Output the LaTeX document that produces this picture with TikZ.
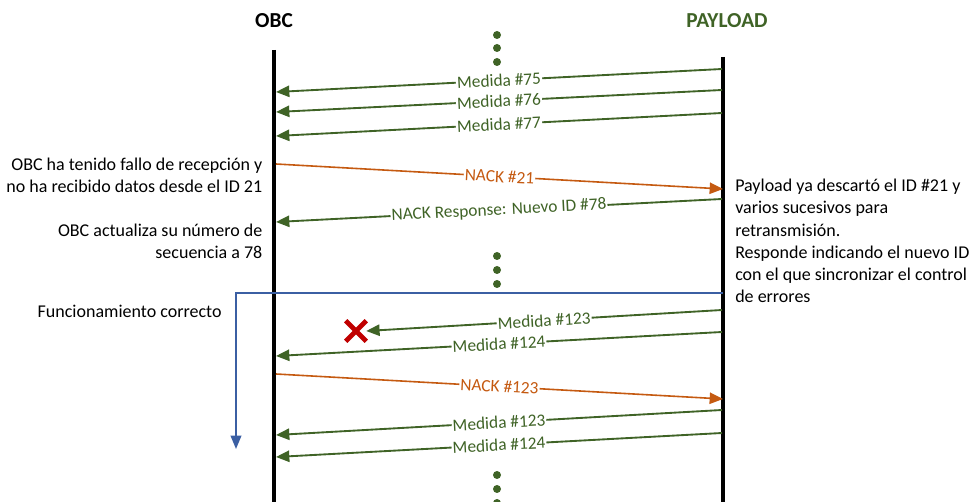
\documentclass[tikz,border=0pt]{standalone}
\usepackage{fontspec}
\setmainfont{Carlito}
\usetikzlibrary{arrows.meta}
\definecolor{msggreen}{HTML}{3F6326}
\definecolor{nackorange}{HTML}{C55A11}
\definecolor{flowblue}{HTML}{3B5FA3}
\definecolor{crossred}{HTML}{C00000}
\begin{document}
\begin{tikzpicture}[x=0.75pt,y=-0.75pt,
  every node/.style={font=\fontsize{13}{16}\selectfont},
  notefont/.style={font=\fontsize{13.5}{16.6}\selectfont},
  lifeline/.style={line width=3pt,black},
  msg/.style={line width=1.4pt,msggreen,-{Triangle[length=10pt,width=8.5pt]}},
  nack/.style={line width=1.2pt,nackorange,-{Triangle[length=10pt,width=8.5pt]}},
  lbl/.style={fill=white,inner sep=0.8pt,sloped,text=msggreen},
  nlbl/.style={fill=white,inner sep=0.8pt,sloped,text=nackorange},
  dotmark/.style={circle,fill=msggreen,inner sep=0pt,minimum size=6pt},
  note/.style={notefont,align=right,anchor=east,text=black}]
\useasboundingbox (0,0) rectangle (976,502);

% participants
\node[font=\fontsize{16}{18}\selectfont\bfseries] (obc) at (274,21) {OBC};
\node[font=\fontsize{16}{18}\selectfont\bfseries,text=msggreen] (pl) at (727,21) {PAYLOAD};
\coordinate (obcTop) at (274,50);
\coordinate (obcBot) at (274,503);
\coordinate (plTop) at (723,57);
\coordinate (plBot) at (723,503);
\draw[lifeline] (obcTop) -- (obcBot);
\draw[lifeline] (plTop) -- (plBot);

% continuation dots
\foreach \n/\y in {a/35,b/48,c/62,d/256,e/270,f/284,g/475,h/489,i/503}
  \node[dotmark] (dot\n) at (497,\y) {};

% first burst of measurements
\coordinate (p75) at (722,69);  \coordinate (o75) at (276,92);
\coordinate (p76) at (722,90);  \coordinate (o76) at (276,112);
\coordinate (p77) at (722,113); \coordinate (o77) at (276,136);
\draw[msg] (p75) -- node[lbl] {Medida \#75} (o75);
\draw[msg] (p76) -- node[lbl] {Medida \#76} (o76);
\draw[msg] (p77) -- node[lbl] {Medida \#77} (o77);

% NACK and its response
\coordinate (oN21) at (276,164); \coordinate (pN21) at (723,189);
\draw[nack] (oN21) -- node[nlbl] {NACK \#21} (pN21);
\coordinate (pR) at (722,199); \coordinate (oR) at (276,222);
\draw[msg] (pR) -- node[lbl] {NACK Response: Nuevo ID \#78} (oR);

% normal operation bracket
\coordinate (blueStart) at (723,293);
\coordinate (blueEnd) at (236,449);
\draw[flowblue,line width=1.2pt,-{Triangle[length=10pt,width=8pt]}] (blueStart) -| (blueEnd);

% lost measurement, marked with a red cross
\node[inner sep=0pt,minimum size=15pt] (lost) at (356,331) {};
\draw[crossred,line width=3.6pt] (lost.north west) -- (lost.south east)
                                 (lost.north east) -- (lost.south west);
\coordinate (p123a) at (722,310);
\draw[msg] (p123a) -- node[lbl] {Medida \#123} (lost.east);
\coordinate (p124a) at (722,332); \coordinate (o124a) at (276,356);
\draw[msg] (p124a) -- node[lbl] {Medida \#124} (o124a);

\coordinate (oN123) at (276,374); \coordinate (pN123) at (723,399);
\draw[nack] (oN123) -- node[nlbl] {NACK \#123} (pN123);

\coordinate (p123b) at (722,410); \coordinate (o123b) at (276,435);
\draw[msg] (p123b) -- node[lbl] {Medida \#123} (o123b);
\coordinate (p124b) at (722,433); \coordinate (o124b) at (276,457);
\draw[msg] (p124b) -- node[lbl] {Medida \#124} (o124b);

% annotations
\node[note] (n1) at (267,175) {OBC ha tenido fallo de recepción y\\no ha recibido datos desde el ID 21};
\node[note] (n2) at (267,241) {OBC actualiza su número de\\secuencia a 78};
\node[notefont,anchor=west] (n3) at (33,311) {Funcionamiento correcto};
\node[notefont,anchor=north west,align=left,inner sep=0pt] (n4) at (735,179) {Payload ya descartó el ID \#21 y\\varios sucesivos para\\retransmisión.\\Responde indicando el nuevo ID\\con el que sincronizar el control\\de errores};
\end{tikzpicture}
\end{document}
